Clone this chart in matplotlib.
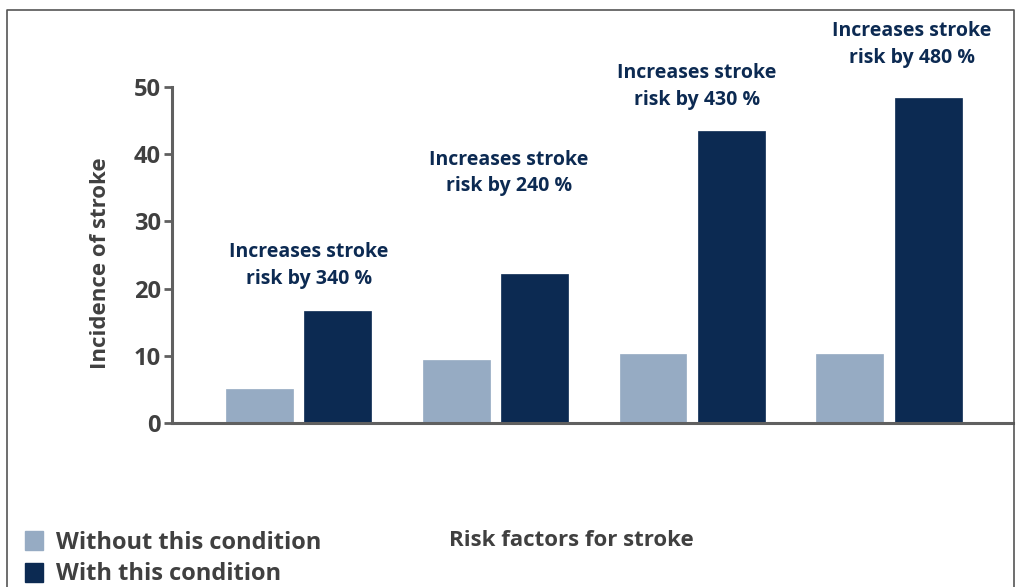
import matplotlib.pyplot as plt
import numpy as np
from matplotlib.patches import Patch
from matplotlib.lines import Line2D

# --- data ---
groups = ["Group 1", "Group 2", "Group 3", "Group 4"]
without_cond = [5.0, 9.3, 10.3, 10.3]
with_cond = [16.6, 22.2, 43.5, 48.4]
notes = ["Increases stroke\nrisk by 340 %", "Increases stroke\nrisk by 240 %",
         "Increases stroke\nrisk by 430 %", "Increases stroke\nrisk by 480 %"]
note_x = [0.053, 1.069, 2.023, 3.114]
note_y = [23.4, 37.2, 50.1, 56.3]

light = "#96abc3"
dark = "#0c2a52"
gray = "#404040"

plt.rcParams['font.family'] = ['Open Sans', 'DejaVu Sans']

fig = plt.figure(figsize=(10.21, 5.87), dpi=100)
ax = fig.add_axes([0.1685, 0.2794, 0.992 - 0.1685, 0.8518 - 0.2794])

x = np.arange(len(groups))
w = 0.34
ax.bar(x - 0.2, without_cond, w, color=light, edgecolor=light, linewidth=0.5, zorder=2)
ax.bar(x + 0.2, with_cond, w, color=dark, edgecolor=dark, linewidth=0.5, zorder=2)

for xi, yi, t in zip(note_x, note_y, notes):
    ax.text(xi, yi, t, ha='center', va='center', fontsize=14, fontweight='bold',
            color=dark, linespacing=1.45, clip_on=False)

ax.set_xlim(-0.642, 3.627)
ax.set_ylim(0, 50)
ax.set_yticks([0, 10, 20, 30, 40, 50])
ax.set_xticks([])
for s in ['top', 'right']:
    ax.spines[s].set_visible(False)
for s in ['left', 'bottom']:
    ax.spines[s].set_color("#606060")
    ax.spines[s].set_linewidth(2.2)
ax.tick_params(axis='y', length=6, width=2, color="#606060", labelsize=17,
               labelcolor=gray, pad=2)
for lb in ax.get_yticklabels():
    lb.set_fontweight('bold')

ax.set_ylabel("Incidence of stroke", fontsize=16, fontweight='bold', color=gray)
ax.yaxis.set_label_coords(-0.073, 0.476)
fig.text(571 / 1021, 1 - 541 / 587, "Risk factors for stroke", ha='center', va='center',
         fontsize=16, fontweight='bold', color=gray)

handles = [Patch(facecolor=light, edgecolor=light, label="Without this condition"),
           Patch(facecolor=dark, edgecolor=dark, label="With this condition")]
leg = fig.legend(handles=handles, loc='lower left', bbox_to_anchor=(0.004, -0.035),
                 frameon=False, handlelength=0.75, handleheight=0.85, handletextpad=0.55,
                 labelspacing=0.32, prop={'size': 17, 'weight': 'bold'})
for t in leg.get_texts():
    t.set_color(gray)

# figure border
bx0, bx1, by1 = 7 / 1021, 1014 / 1021, 1 - 10 / 587
fig.add_artist(Line2D([bx0, bx0, bx1, bx1], [0, by1, by1, 0], color="#555555", lw=1.2))

fig.savefig("out.png", dpi=100)
